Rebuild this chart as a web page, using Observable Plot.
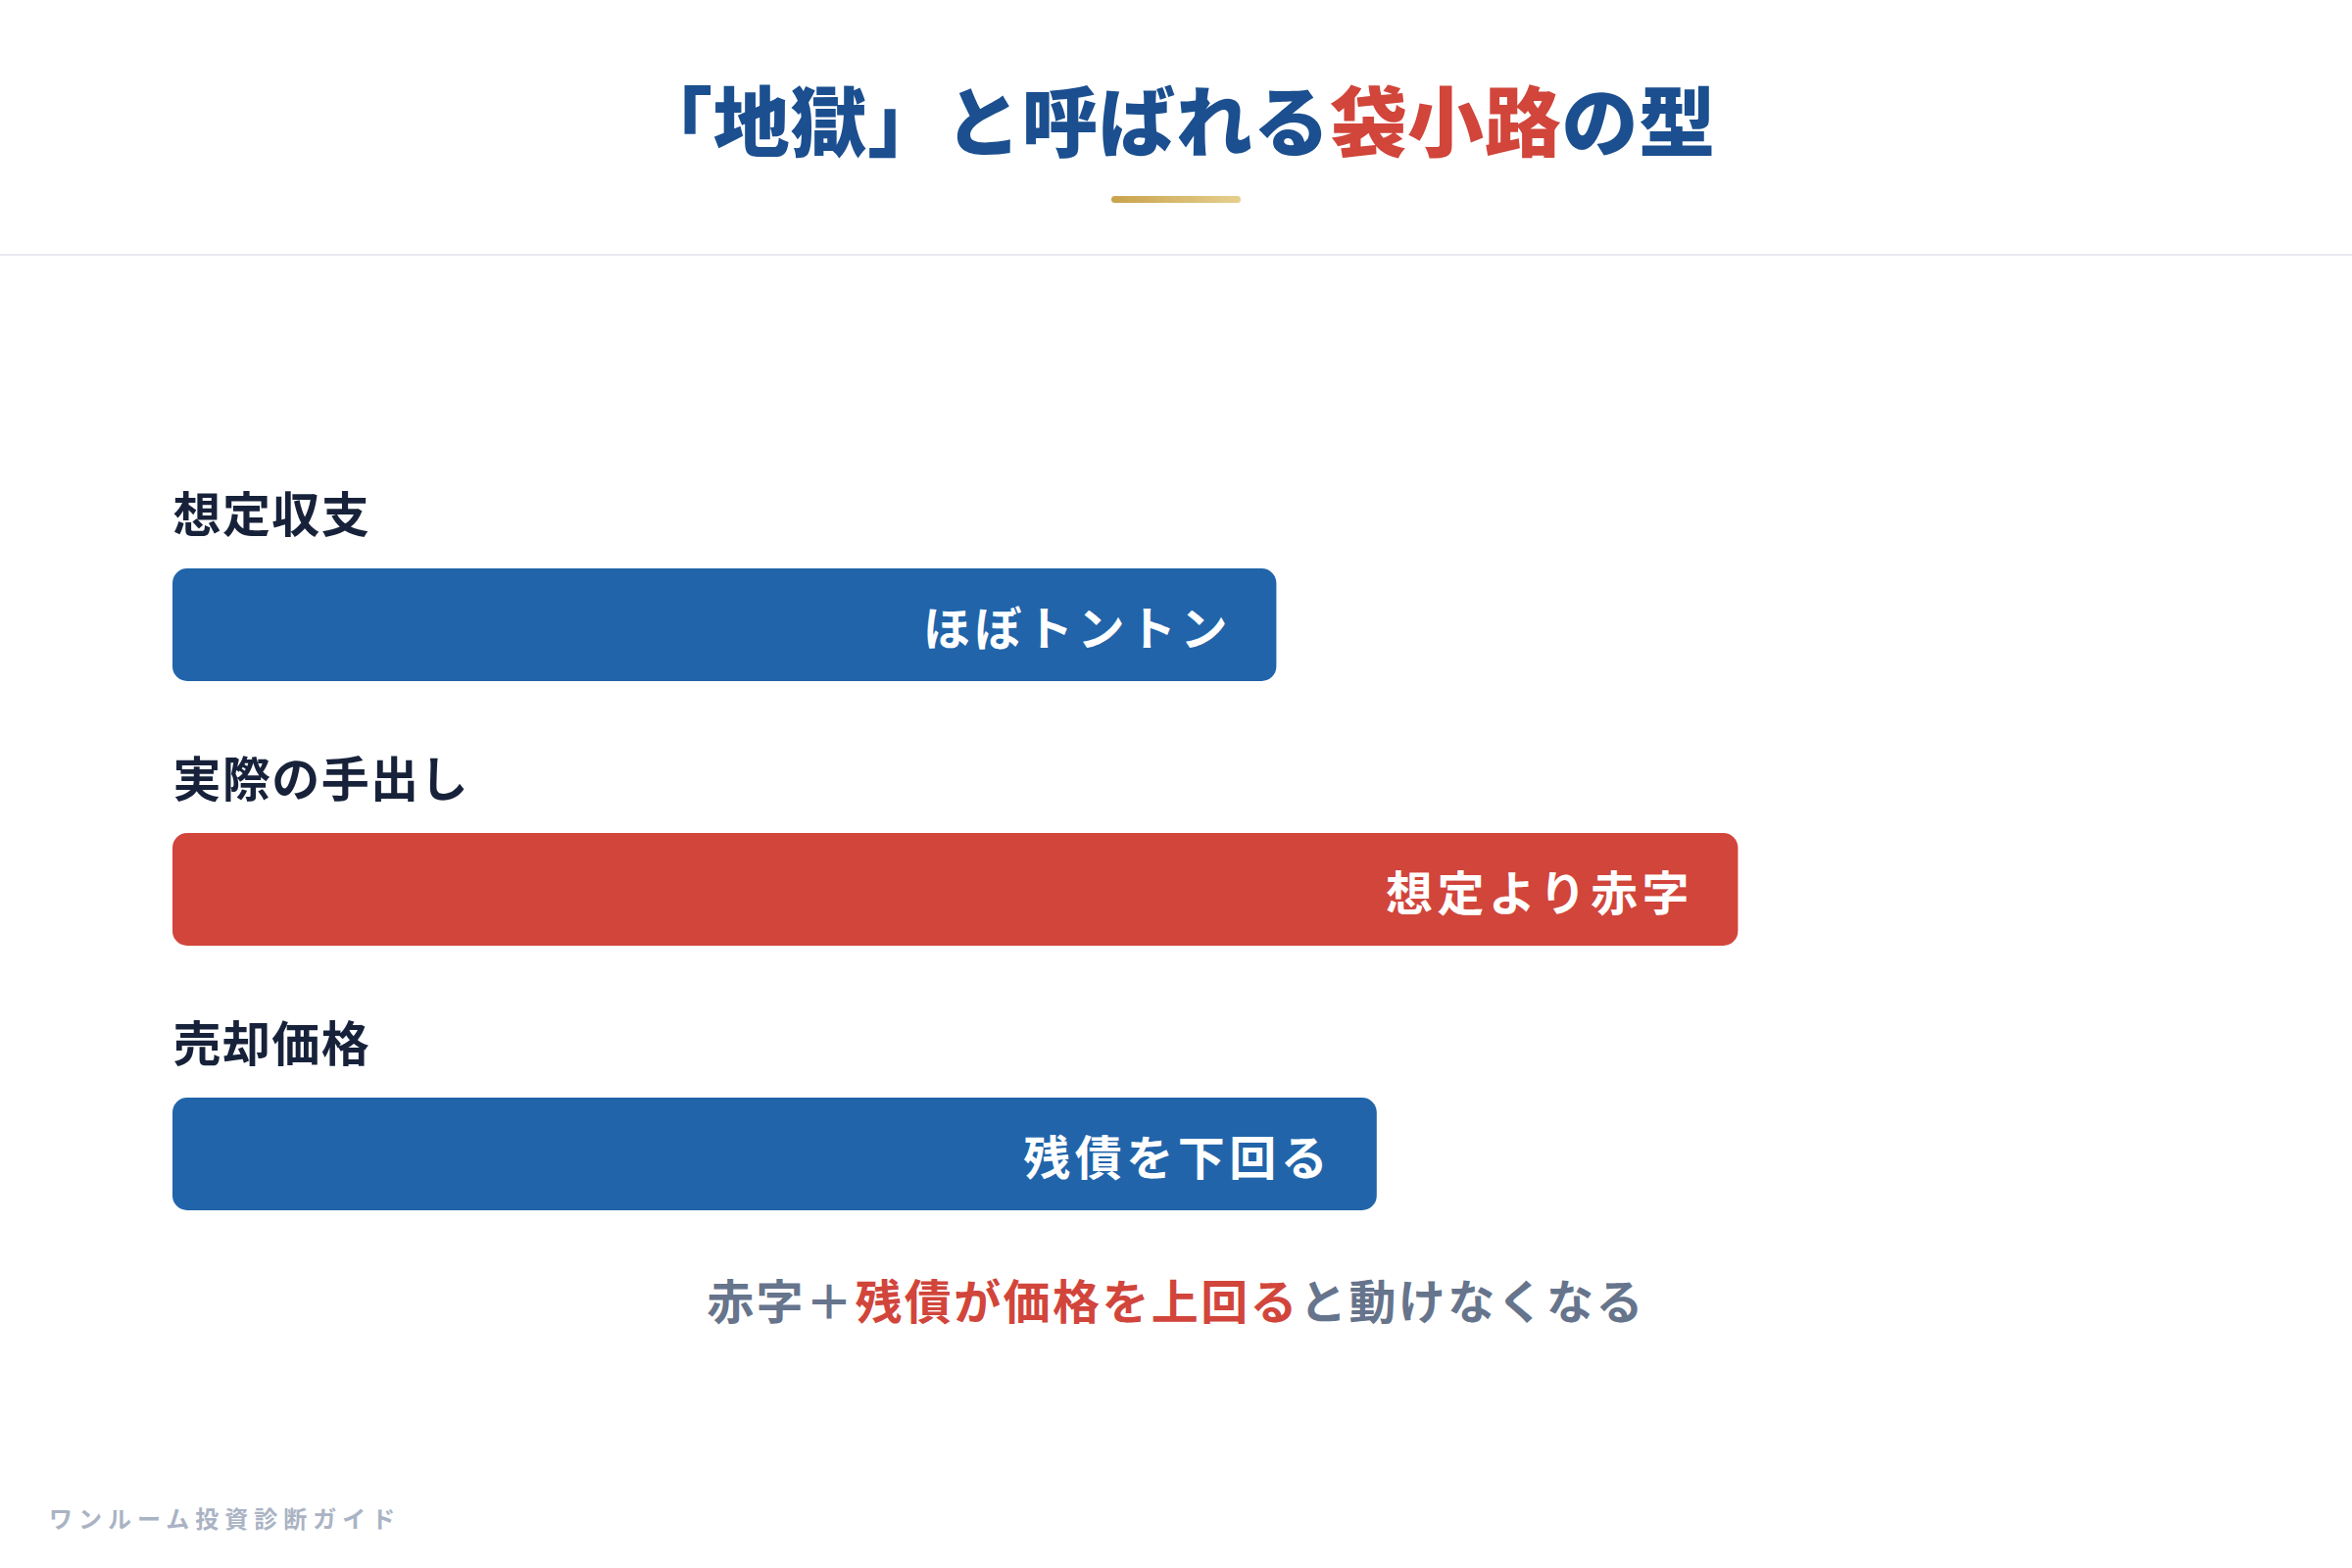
<!DOCTYPE html>
<html lang="ja">
<head>
<meta charset="utf-8">
<script src="https://cdn.jsdelivr.net/npm/d3@7"></script>
<script src="https://cdn.jsdelivr.net/npm/@observablehq/plot@0.6"></script>
<style>
  html, body { margin: 0; padding: 0; background: #ffffff; }
  body { width: 2400px; height: 1600px; position: relative; overflow: hidden;
         font-family: "Noto Sans CJK JP", "Noto Sans", sans-serif; }
  .title { position: absolute; left: 0; width: 2400px; top: 81px; text-align: center;
           font-size: 78px; line-height: 78px; font-weight: 900; color: #1b4f8f; letter-spacing: 0.7px; }
  .title .red { color: #d1453b; }
  .gold { position: absolute; left: 1134px; top: 200px; width: 132px; height: 7px; border-radius: 4px;
          background: linear-gradient(90deg, #c9a24c, #e6cf8f); }
  .rule { position: absolute; left: 0; top: 259px; width: 2400px; height: 2px; background: #e7e9ef; }
  #chart { position: absolute; left: 0; top: 261px; }
  .caption { position: absolute; left: 0; width: 2400px; top: 1301px; text-align: center;
             font-size: 48px; line-height: 48px; font-weight: 700; color: #66748c; letter-spacing: 2.4px; }
  .caption .red { color: #d1453b; }
  .footer { position: absolute; left: 50px; top: 1536px; font-size: 24px; line-height: 26px;
            font-weight: 700; color: #aab3c4; letter-spacing: 6px; }
</style>
</head>
<body>
<div class="title">「地獄」と呼ばれる<span class="red">袋小路</span>の型</div>
<div class="gold"></div>
<div class="rule"></div>
<div id="chart"></div>
<div class="caption">赤字＋<span class="red">残債が価格を上回る</span>と動けなくなる</div>
<div class="footer">ワンルーム投資診断ガイド</div>
<script>
const categories = ["想定収支", "実際の手出し", "売却価格"];
const values = [55, 78, 60];
const barLabels = ["ほぼトントン", "想定より赤字", "残債を下回る"];
const status = ["neutral", "loss", "neutral"];

const rows = categories.map((c, i) => ({ category: c, value: values[i], label: barLabels[i], status: status[i] }));

const chart = Plot.plot({
  width: 2400,
  height: 1060,
  marginLeft: 176,
  marginRight: 176,
  marginTop: 0,
  marginBottom: 0,
  style: { fontFamily: '"Noto Sans CJK JP", "Noto Sans", sans-serif', background: "transparent", overflow: "visible" },
  x: { domain: [0, 100], axis: null },
  y: { type: "band", domain: categories, range: [241, 1051], padding: 0, axis: null },
  color: { domain: ["neutral", "loss"], range: ["#2164aa", "#d1453b"] },
  marks: [
    Plot.barX(rows, { x: "value", y: "category", fill: "status", rx: 15, insetTop: 78, insetBottom: 77 }),
    Plot.text(rows, { x: "value", y: "category", text: "label", textAnchor: "end", dx: -46, dy: 6,
                      fill: "#ffffff", fontSize: 48, fontWeight: 700 }),
    Plot.text(rows, { x: () => 0, y: "category", text: "category", textAnchor: "start", dy: -110,
                      fill: "#17223a", fontSize: 49, fontWeight: 700 })
  ]
});
d3.select(chart).selectAll("text").each(function () {
  const t = this.textContent;
  if (barLabels.includes(t)) this.style.letterSpacing = "4.5px";
  else if (categories.includes(t)) this.style.letterSpacing = "1.4px";
});
document.getElementById("chart").appendChild(chart);
</script>
</body>
</html>
